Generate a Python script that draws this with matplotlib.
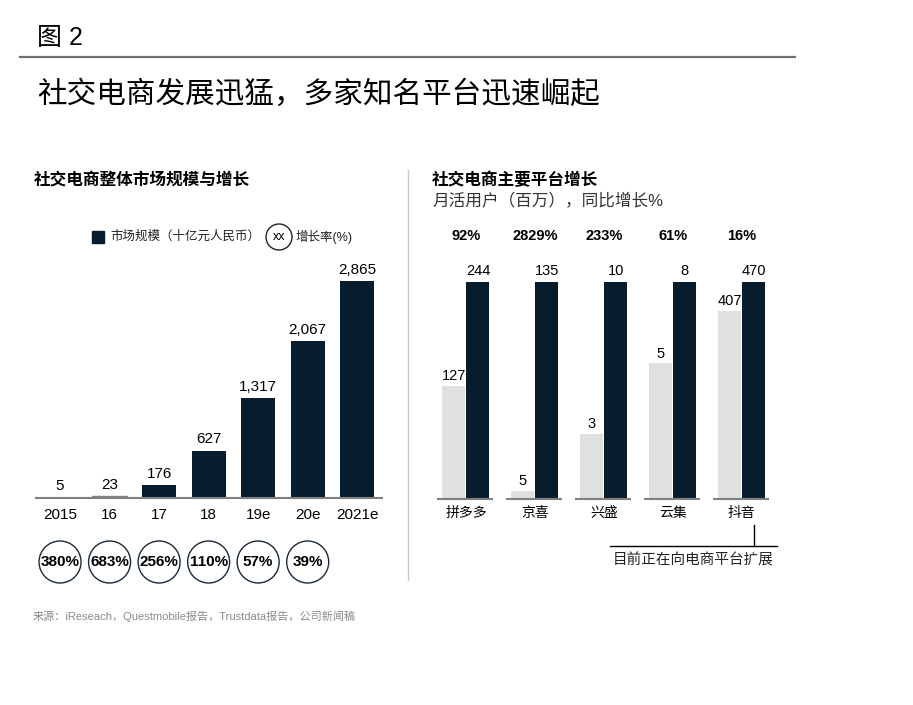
import matplotlib
matplotlib.use("Agg")
import matplotlib.pyplot as plt
from matplotlib.patches import Circle
from matplotlib.lines import Line2D
from matplotlib.transforms import Affine2D

plt.rcParams['font.family'] = ['Liberation Sans', 'Noto Sans CJK SC', 'DejaVu Sans']

# left chart: market size (billion RMB) and growth
years = ['2015', '16', '17', '18', '19e', '20e', '2021e']
market = [5, 23, 176, 627, 1317, 2067, 2865]
growth = ['380%', '683%', '256%', '110%', '57%', '39%']

# right chart: MAU (million), previous vs current, yoy growth
platforms = ['拼多多', '京喜', '兴盛', '云集', '抖音']
mau_prev = [127, 5, 3, 5, 407]
mau_curr = [244, 135, 10, 8, 470]
yoy = ['92%', '2829%', '233%', '61%', '16%']

DARK = '#071D2E'
LIGHT = '#DFE0E0'
W, H = 913, 705

fig = plt.figure(figsize=(W / 100, H / 100), dpi=100)
# pixel coordinates, origin top-left
px = Affine2D().scale(1, -1).translate(0, H).scale(1 / 100) + fig.dpi_scale_trans


def ax_at(x0, y0, x1, y1):
    return fig.add_axes([x0 / W, 1 - y1 / H, (x1 - x0) / W, (y1 - y0) / H])


# header
fig.text(37, 38, '图 2', transform=px, fontsize=18, va='center', color='black')
fig.add_artist(Line2D([20, 795], [57, 57], transform=px, color='#707070', lw=1.6))
fig.text(37, 95, '社交电商发展迅猛，多家知名平台迅速崛起', transform=px, fontsize=21.3,
         va='center', color='black')

# divider
fig.add_artist(Line2D([408, 408], [170, 580], transform=px, color='#C8C8C8', lw=1))

# ---- left chart ----
fig.text(34, 180, '社交电商整体市场规模与增长', transform=px, fontsize=12,
         fontweight='bold', va='center')
fig.add_artist(plt.Rectangle((92, 231), 12, 12, transform=px, color=DARK))
fig.text(110, 237, '市场规模（十亿元人民币）', transform=px, fontsize=9, va='center',
         color='#222222')
fig.add_artist(Circle((279, 237), 13, transform=px, fill=False, ec='#222222', lw=1))
fig.text(279, 237, 'xx', transform=px, fontsize=9, va='center', ha='center')
fig.text(296, 237, '增长率(%)', transform=px, fontsize=9, va='center', color='#222222')

ax1 = ax_at(36, 260, 382, 498)
x1 = list(range(len(years)))
bars1 = ax1.bar(x1, market, width=0.69, color=DARK)
bars1[1].set_color('#7A8590')
ax1.set_xlim(-0.485, 6.5)
ax1.set_ylim(0, 2865 * 238 / 217)
ax1.bar_label(bars1, labels=[f'{v:,}' for v in market], padding=3, fontsize=11)
for s in ['top', 'right', 'left']:
    ax1.spines[s].set_visible(False)
ax1.spines['bottom'].set_color('#808080')
ax1.spines['bottom'].set_linewidth(1.5)
ax1.set_yticks([])
ax1.set_xticks(x1)
ax1.set_xticklabels(years, fontsize=11)
ax1.tick_params(axis='x', length=0, pad=7)

for i, g in enumerate(growth):
    cx = ax1.transData.transform((i, 0))[0]
    cy = H - 562
    fig.add_artist(Circle((cx, cy), 21, transform=None, fill=False, ec='#1A2A3A', lw=1))
    fig.text(cx / W, cy / H, g, fontsize=11, fontweight='bold', ha='center', va='center')

fig.text(33, 616, '来源：iReseach，Questmobile报告，Trustdata报告，公司新闻稿',
         transform=px, fontsize=8, va='center', color='#8A8A8A')

# ---- right chart ----
fig.text(432, 180, '社交电商主要平台增长', transform=px, fontsize=12,
         fontweight='bold', va='center')
fig.text(432, 200, '月活用户（百万），同比增长%', transform=px, fontsize=12,
         va='center', color='#333333')

ax2 = ax_at(437, 260, 770, 499)
x2 = list(range(len(platforms)))
off = 0.174
ratio_prev = [p / c for p, c in zip(mau_prev, mau_curr)]
b_prev = ax2.bar([x - off for x in x2], ratio_prev, width=0.333, color=LIGHT)
b_curr = ax2.bar([x + off for x in x2], [1] * len(x2), width=0.333, color=DARK)
ax2.bar_label(b_prev, labels=[str(v) for v in mau_prev], padding=2, fontsize=10.5)
ax2.bar_label(b_curr, labels=[str(v) for v in mau_curr], padding=3, fontsize=10.5)
ax2.set_xlim(-0.42, 4.41)
ax2.set_ylim(0, 239 / 217)
for s in ax2.spines.values():
    s.set_visible(False)
ax2.set_yticks([])
ax2.set_xticks(x2)
ax2.set_xticklabels(platforms, fontsize=10)
ax2.tick_params(axis='x', length=0, pad=5)
for x in x2:
    ax2.plot([x - 0.42, x + 0.39], [0, 0], color='#808080', lw=1.5, clip_on=False,
             solid_capstyle='butt')
for x, t in zip(x2, yoy):
    ax2.annotate(t, xy=(x, 236), xycoords=('data', px), ha='center', va='center',
                 fontsize=10.5, fontweight='bold')

# bracket for 抖音
bx = ax2.transData.transform((4 + off, 0))[0]
fig.add_artist(Line2D([bx, bx], [H - 525, H - 546], transform=None, color='black', lw=1))
fig.add_artist(Line2D([610, 777], [546, 546], transform=px, color='black', lw=1))
fig.text(693, 561, '目前正在向电商平台扩展', transform=px, fontsize=10.5, ha='center',
         va='center', color='#222222')

fig.savefig('out.png', dpi=100)
